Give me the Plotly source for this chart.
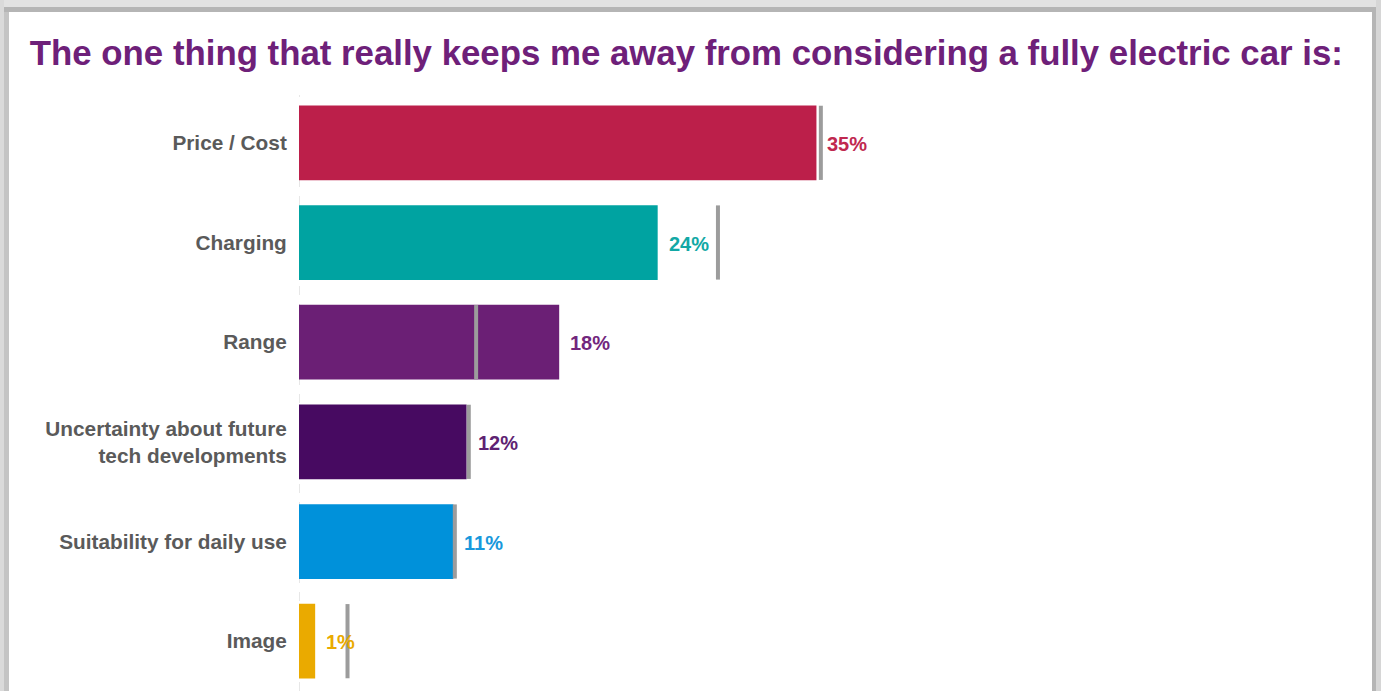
import plotly.graph_objects as go

# ---- data ----
categories = ["Price / Cost", "Charging", "Range",
              "Uncertainty about future<br>tech developments",
              "Suitability for daily use", "Image"]
values = [35.2, 24.4, 17.7, 11.4, 10.5, 1.1]
value_labels = ["35%", "24%", "18%", "12%", "11%", "1%"]
comparison = [35.5, 28.5, 12.05, 11.55, 10.6, 3.3]
title_text = "The one thing that really keeps me away from considering a fully electric car is:"

# ---- style ----
bar_colors = ["#BC1F4A", "#00A3A1", "#6B1F75", "#470A61", "#0091DA", "#EAAA00"]
label_colors = ["#C0284F", "#12A8A5", "#72267D", "#5E2272", "#1898DC", "#EAAA00"]
W, H = 1381, 691
ML, MR, MT, MB = 299, 347, 93, 0
PW, PH = W - ML - MR, H - MT - MB
XMAX = 50


def px_x(px):
    return (px - ML) / PW


def px_y(py):
    return (H - MB - py) / PH


fig = go.Figure()
fig.add_trace(go.Bar(
    y=categories, x=values, orientation="h",
    marker=dict(color=bar_colors, line=dict(width=0)),
    hoverinfo="skip", showlegend=False,
))
fig.add_trace(go.Scatter(
    y=categories, x=comparison, mode="markers",
    marker=dict(symbol="line-ns", size=53, line=dict(color="#9c9c9c", width=4)),
    hoverinfo="skip", showlegend=False, cliponaxis=False,
))

for cat, v, lab, col in zip(categories, values, value_labels, label_colors):
    fig.add_annotation(x=v, y=cat, text=lab, showarrow=False, xanchor="left",
                       xshift=9, yshift=-1,
                       font=dict(family="Liberation Sans, Arial", size=20,
                                 color=col, weight="bold"))

shapes = []
# dashed baseline axis
shapes.append(dict(type="line", xref="x", yref="paper", x0=0, x1=0,
                   y0=0, y1=px_y(95), line=dict(color="#cfcfcf", width=1, dash="dash"),
                   layer="below"))
# frame (screenshot border)
frame = [
    (0, 0, W, 7, "#e2e2e2"),
    (0, 7, W, 12, "#b5b5b5"),
    (0, 0, 4, H, "#dadada"),
    (4, 12, 9, H, "#c4c4c4"),
    (1372, 12, 1376, H, "#b5b5b5"),
    (1376, 0, W, H, "#d6d6d6"),
]
for x0, y0, x1, y1, c in frame:
    shapes.append(dict(type="rect", xref="paper", yref="paper",
                       x0=px_x(x0), x1=px_x(x1), y0=px_y(y1), y1=px_y(y0),
                       fillcolor=c, line=dict(width=0), layer="above"))

fig.update_layout(
    width=W, height=H,
    margin=dict(l=ML, r=MR, t=MT, b=MB),
    paper_bgcolor="white", plot_bgcolor="white",
    bargap=0.25,
    title=dict(text=title_text, x=0.497, xref="container", xanchor="center",
               y=1 - 53 / H, yref="container", yanchor="middle",
               font=dict(family="Liberation Sans, Arial", size=34.8,
                         color="#6E2079", weight="bold")),
    xaxis=dict(range=[0, XMAX], showgrid=False, zeroline=False, showline=False,
               showticklabels=False, ticks=""),
    yaxis=dict(range=[len(categories) - 0.5, -0.5], showgrid=False, zeroline=False,
               showline=False, ticks="outside", ticklen=7, tickcolor="rgba(0,0,0,0)",
               tickfont=dict(family="Liberation Sans, Arial", size=20.8,
                             color="#5A5A5A", weight="bold")),
    shapes=shapes,
    font=dict(family="Liberation Sans, Arial"),
)

fig.write_html("out.html")
